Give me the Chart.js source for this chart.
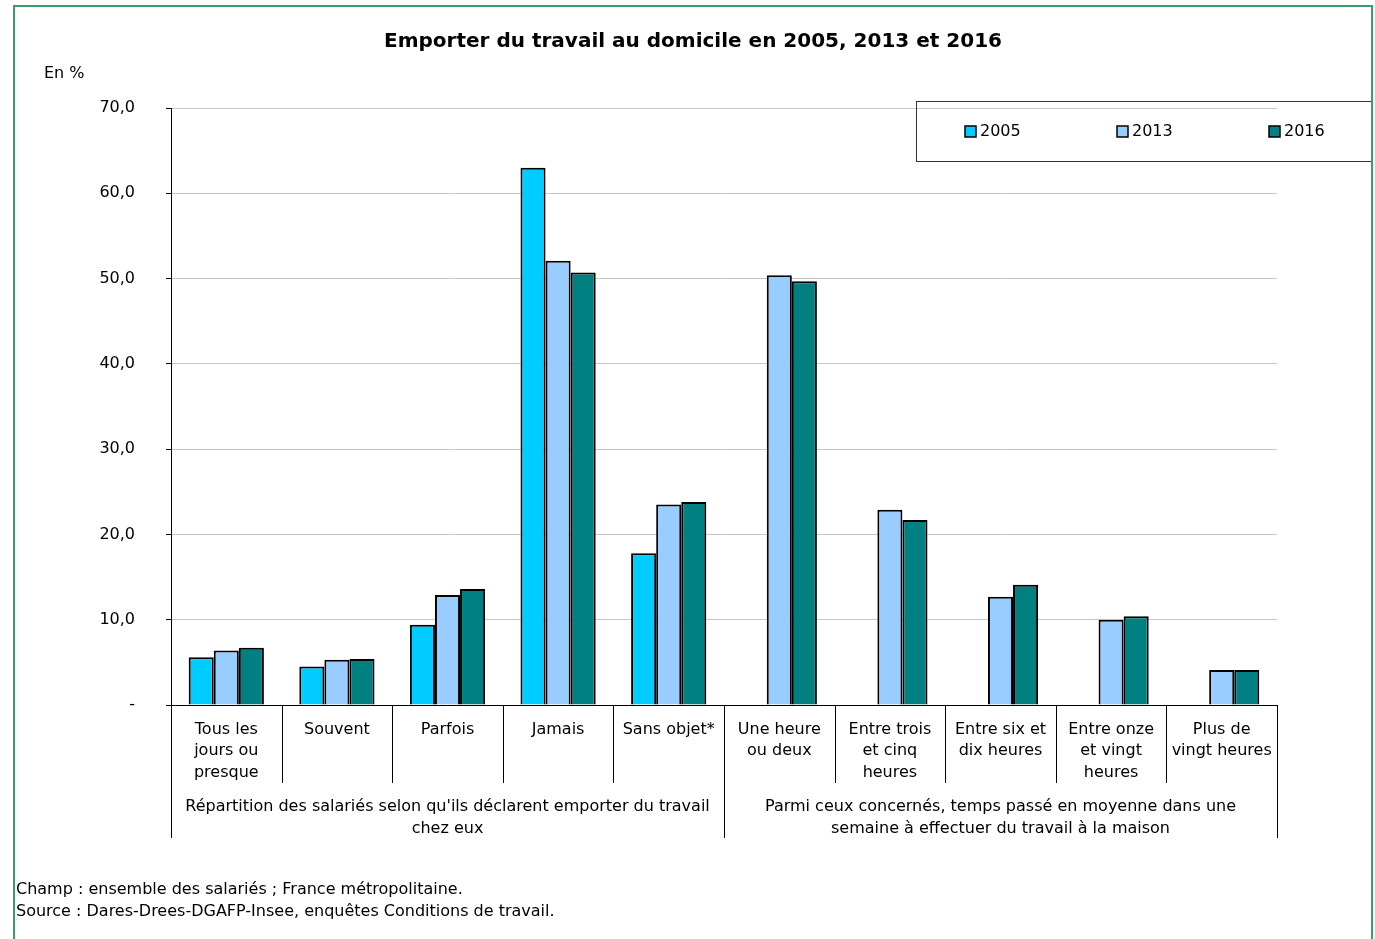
<!DOCTYPE html>
<html>
<head>
<meta charset="utf-8">
<script src="https://cdn.jsdelivr.net/npm/chart.js@4"></script>
<style>
  body { margin: 0; background: #fff; }
  canvas { display: block; }
</style>
</head>
<body>
<canvas id="homeWorkChart" width="1375" height="939"></canvas>
<script>
const categories = [
    ['Tous les', 'jours ou', 'presque'],
    ['Souvent'],
    ['Parfois'],
    ['Jamais'],
    ['Sans objet*'],
    ['Une heure', 'ou deux'],
    ['Entre trois', 'et cinq', 'heures'],
    ['Entre six et', 'dix heures'],
    ['Entre onze', 'et vingt', 'heures'],
    ['Plus de', 'vingt heures']
];
const values2005 = [5.6, 4.5, 9.4, 63.0, 17.8, null, null, null, null, null];
const values2013 = [6.4, 5.3, 12.9, 52.1, 23.5, 50.4, 22.9, 12.7, 10.0, 4.1];
const values2016 = [6.7, 5.4, 13.6, 50.7, 23.8, 49.7, 21.7, 14.1, 10.4, 4.1];
const groupLabels = [
    ["Répartition des salariés selon qu'ils déclarent emporter du travail", 'chez eux'],
    ['Parmi ceux concernés, temps passé en moyenne dans une', 'semaine à effectuer du travail à la maison']
];
const groupSizes = [5, 5];
const chartTitle = 'Emporter du travail au domicile en 2005, 2013 et 2016';
const unitLabel = 'En %';
const notes = [
    'Champ : ensemble des salariés ; France métropolitaine.',
    'Source : Dares-Drees-DGAFP-Insee, enquêtes Conditions de travail.'
];

const FONT = '"DejaVu Sans", Verdana, sans-serif';

// everything that is not a bar or an axis: frame, title, legend, group labels, notes
const decorations = {
    id: 'decorations',
    afterDraw(chart) {
        const ctx = chart.ctx;
        const x = chart.scales.x;
        const area = chart.chartArea;
        ctx.save();

        // green frame
        ctx.strokeStyle = '#3d9b6e';
        ctx.lineWidth = 2;
        ctx.strokeRect(14, 6, 1358, 950);

        // title + unit
        ctx.fillStyle = '#000';
        ctx.textBaseline = 'middle';
        ctx.textAlign = 'center';
        ctx.font = 'bold 20px ' + FONT;
        ctx.fillText(chartTitle, 693, 42);
        ctx.textAlign = 'left';
        ctx.font = '16px ' + FONT;
        ctx.fillText(unitLabel, 44, 74);

        // category separators and group separators
        const step = (x.right - x.left) / categories.length;
        ctx.strokeStyle = '#000';
        ctx.lineWidth = 1;
        for (let i = 0; i <= categories.length; i++) {
            const px = Math.round(x.left + i * step) + 0.5;
            ctx.beginPath();
            ctx.moveTo(px, area.bottom);
            ctx.lineTo(px, 783);
            ctx.stroke();
        }
        let start = 0;
        ctx.font = '16px ' + FONT;
        ctx.textAlign = 'center';
        groupSizes.forEach((size, g) => {
            const x0 = x.left + start * step;
            const x1 = x.left + (start + size) * step;
            [x0, x1].forEach(px => {
                ctx.beginPath();
                ctx.moveTo(Math.round(px) + 0.5, area.bottom);
                ctx.lineTo(Math.round(px) + 0.5, 838);
                ctx.stroke();
            });
            groupLabels[g].forEach((line, j) => {
                ctx.fillText(line, (x0 + x1) / 2, 807 + j * 21.5);
            });
            start += size;
        });

        // legend box (runs under the right side of the frame)
        ctx.strokeStyle = '#333';
        ctx.strokeRect(916.5, 101.5, 470, 60);
        const legendX = [965, 1117, 1269];
        chart.data.datasets.forEach((ds, i) => {
            ctx.fillStyle = ds.backgroundColor;
            ctx.fillRect(legendX[i], 126, 11, 11);
            ctx.strokeStyle = '#000';
            ctx.lineWidth = 1.5;
            ctx.strokeRect(legendX[i], 126, 11, 11);
            ctx.fillStyle = '#000';
            ctx.textAlign = 'left';
            ctx.font = '16px ' + FONT;
            ctx.fillText(ds.label, legendX[i] + 15, 132);
        });

        // notes
        ctx.textAlign = 'left';
        ctx.font = '16px ' + FONT;
        notes.forEach((line, j) => ctx.fillText(line, 16, 890 + j * 22));

        // redraw frame edge over the legend box
        ctx.strokeStyle = '#3d9b6e';
        ctx.lineWidth = 2;
        ctx.beginPath();
        ctx.moveTo(1372, 6);
        ctx.lineTo(1372, 939);
        ctx.stroke();
        ctx.fillStyle = '#fff';
        ctx.fillRect(1373, 0, 2, 939);
        ctx.restore();
    }
};

const ctx = document.getElementById('homeWorkChart').getContext('2d');
const homeWorkChart = new Chart(ctx, {
    type: 'bar',
    data: {
        labels: categories,
        datasets: [
            { label: '2005', data: values2005, backgroundColor: '#00ccff' },
            { label: '2013', data: values2013, backgroundColor: '#99ccff' },
            { label: '2016', data: values2016, backgroundColor: '#008080' }
        ]
    },
    options: {
        responsive: false,
        animation: false,
        layout: { padding: { left: 0, top: 108, right: 98, bottom: 0 } },
        datasets: {
            bar: {
                borderColor: '#000',
                borderWidth: 2,
                borderSkipped: 'start',
                categoryPercentage: 0.68,
                barPercentage: 1
            }
        },
        scales: {
            x: {
                grid: { display: false, drawTicks: false },
                border: { display: true, color: '#000', width: 1 },
                ticks: {
                    color: '#000',
                    padding: 14,
                    maxRotation: 0,
                    autoSkip: false,
                    font: { family: FONT, size: 16, lineHeight: 1.34 }
                },
                afterFit(scale) { scale.height = 939 - 705; }
            },
            y: {
                min: 0,
                max: 70,
                grid: { color: '#c8c8c8', lineWidth: 1, tickColor: '#000', tickLength: 5 },
                border: { display: true, color: '#000', width: 1 },
                ticks: {
                    stepSize: 10,
                    color: '#000',
                    padding: 31,
                    font: { family: FONT, size: 16 },
                    callback: v => v === 0 ? '-' : v.toFixed(1).replace('.', ',')
                },
                afterFit(scale) { scale.width = 171; }
            }
        },
        plugins: {
            legend: { display: false },
            tooltip: { enabled: false }
        }
    },
    plugins: [decorations]
});
</script>
</body>
</html>
